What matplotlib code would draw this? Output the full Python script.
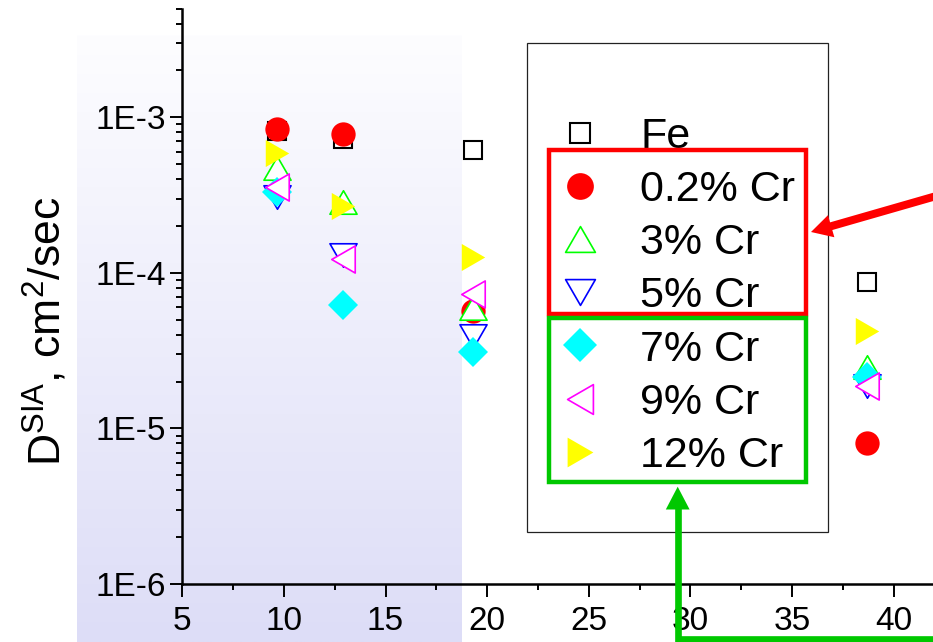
import numpy as np
import matplotlib
matplotlib.use("Agg")
import matplotlib.pyplot as plt
import matplotlib.transforms as mtransforms
from matplotlib.path import Path
from matplotlib.patches import Rectangle, FancyArrow, Polygon
from matplotlib.lines import Line2D
from matplotlib.ticker import MultipleLocator, FixedLocator, FuncFormatter

plt.rcParams["font.family"] = ["Liberation Sans", "DejaVu Sans"]
plt.rcParams["mathtext.fontset"] = "custom"
plt.rcParams["mathtext.rm"] = "Liberation Sans"

# cluster size on x, diffusion coefficient on y
size = [9.66, 12.89, 19.32, 38.68]
d_fe = [8.1e-4, 7.2e-4, 6.2e-4, 8.7e-5]
d_cr02 = [8.45e-4, 7.8e-4, 5.7e-5, 8.1e-6]
d_cr3 = [4.7e-4, 2.85e-4, 5.9e-5, 2.5e-5]
d_cr5 = [3.07e-4, 1.3e-4, 3.9e-5, 1.87e-5]
d_cr7 = [3.33e-4, 6.2e-5, 3.1e-5, 2.15e-5]
d_cr9 = [3.55e-4, 1.22e-4, 7.3e-5, 1.86e-5]
d_cr12 = [5.9e-4, 2.7e-4, 1.26e-4, 4.2e-5]
labels = ["Fe", "0.2% Cr", "3% Cr", "5% Cr", "7% Cr", "9% Cr", "12% Cr"]

W, H = 933, 642
fig = plt.figure(figsize=(W / 100, H / 100), dpi=100)
# pixel coords with y pointing down, for the overlay boxes and arrows
pix = mtransforms.Affine2D().scale(1, -1).translate(0, H)


def tri(pts):
    pts = list(pts) + [pts[0]]
    return Path(pts, [Path.MOVETO, Path.LINETO, Path.LINETO, Path.CLOSEPOLY])


tri_up = tri([(-1, -0.866), (1, -0.866), (0, 0.866)])
tri_down = tri([(-1, 0.866), (1, 0.866), (0, -0.866)])
tri_left = tri([(-0.866, 0), (0.866, 1), (0.866, -1)])
tri_right = tri([(0.866, 0), (-0.866, 1), (-0.866, -1)])

# shaded band behind the small-cluster region
bg = fig.add_axes([77 / W, 0, (461.7 - 77) / W, (H - 35) / H])
top = np.array([253, 253, 255]) / 255
bot = np.array([221, 221, 247]) / 255
t = np.linspace(0, 1, 256)[:, None, None]
bg.imshow(top + (bot - top) * t, aspect="auto", extent=[0, 1, 0, 1])
bg.axis("off")

ax = fig.add_axes([182.3 / W, 58 / H, (W - 182.3) / W, (584 - 8.5) / H])
ax.patch.set_visible(False)

ax.plot(size, d_fe, ls="none", marker="s", ms=13.5, mfc="white", mec="black", mew=1.5, label=labels[0])
ax.plot(size, d_cr02, ls="none", marker="o", ms=17.5, color="#ff0000", mew=0, label=labels[1])
ax.plot(size, d_cr3, ls="none", marker=tri_up, ms=19.5, mfc="white", mec="#00ff00", mew=1.2, label=labels[2])
ax.plot(size, d_cr5, ls="none", marker=tri_down, ms=19.5, mfc="white", mec="#0000ff", mew=1.2, label=labels[3])
ax.plot(size, d_cr7, ls="none", marker="D", ms=15.3, color="#00ffff", mew=0, label=labels[4])
ax.plot(size, d_cr9, ls="none", marker=tri_left, ms=19.5, mfc="white", mec="#ff00ff", mew=1.2, label=labels[5])
ax.plot(size, d_cr12, ls="none", marker=tri_right, ms=19.5, color="#ffff00", mew=0, label=labels[6])

ax.set_yscale("log")
ax.set_xlim(5, 5 + (W - 182.3) / 20.32)
ax.set_ylim(1e-6, 5e-3)
ax.xaxis.set_major_locator(MultipleLocator(5))
ax.xaxis.set_minor_locator(MultipleLocator(2.5))
ax.yaxis.set_major_locator(FixedLocator([1e-6, 1e-5, 1e-4, 1e-3]))
ax.yaxis.set_major_formatter(FuncFormatter(lambda v, p: "1E%d" % round(np.log10(v))))
ax.yaxis.set_minor_locator(FixedLocator([m * 10.0 ** e for e in range(-6, -2) for m in range(2, 10)]))
ax.yaxis.set_minor_formatter(FuncFormatter(lambda v, p: ""))

for s in ["top", "right"]:
    ax.spines[s].set_visible(False)
for s in ["left", "bottom"]:
    ax.spines[s].set_linewidth(1.8)
ax.tick_params(which="major", direction="out", length=9, width=1.4, labelsize=24)
ax.tick_params(axis="x", which="major", pad=7)
ax.tick_params(axis="y", which="major", pad=3)
ax.tick_params(which="minor", direction="out", length=4.5, width=1.4)

fig.text(46 / W, 1 - 331 / H, r"D$^{\mathregular{SIA}}$, cm$^{\mathregular{2}}$/sec",
         rotation=90, ha="center", va="center", fontsize=32)

ax.legend(frameon=False, loc="upper left", bbox_to_anchor=(558.5 / W, 1 - 117 / H),
          bbox_transform=fig.transFigure, fontsize=31, markerscale=1.1, numpoints=1,
          handlelength=1.0, handletextpad=0.9, labelspacing=0.305, borderpad=0, borderaxespad=0)

# legend frame and group boxes
fig.patches.append(Rectangle((527, 42.7), 301, 489, transform=pix, fill=False, ec="#222222", lw=0.9))
fig.patches.append(Rectangle((549, 150), 257, 164, transform=pix, fill=False, ec="#ff0000", lw=3.2))
fig.patches.append(Rectangle((549, 318), 257, 164.3, transform=pix, fill=False, ec="#00c800", lw=3.2))

# red arrow from the right edge into the red box
fig.patches.append(FancyArrow(945, 193.5, 811 - 945, 232 - 193.5, width=8, head_width=23,
                              head_length=21, length_includes_head=True, transform=pix,
                              color="#ff0000", lw=0))
# green elbow arrow from the bottom edge into the green box
fig.lines.append(Line2D([945, 677.7, 677.7], [638.5, 638.5, 505], transform=pix,
                        color="#00c800", lw=4.8, solid_joinstyle="miter"))
fig.patches.append(Polygon([(677.7, 486.7), (665.8, 509.5), (689.6, 509.5)], closed=True,
                           transform=pix, color="#00c800", lw=0))

fig.savefig("out.png", dpi=100)
